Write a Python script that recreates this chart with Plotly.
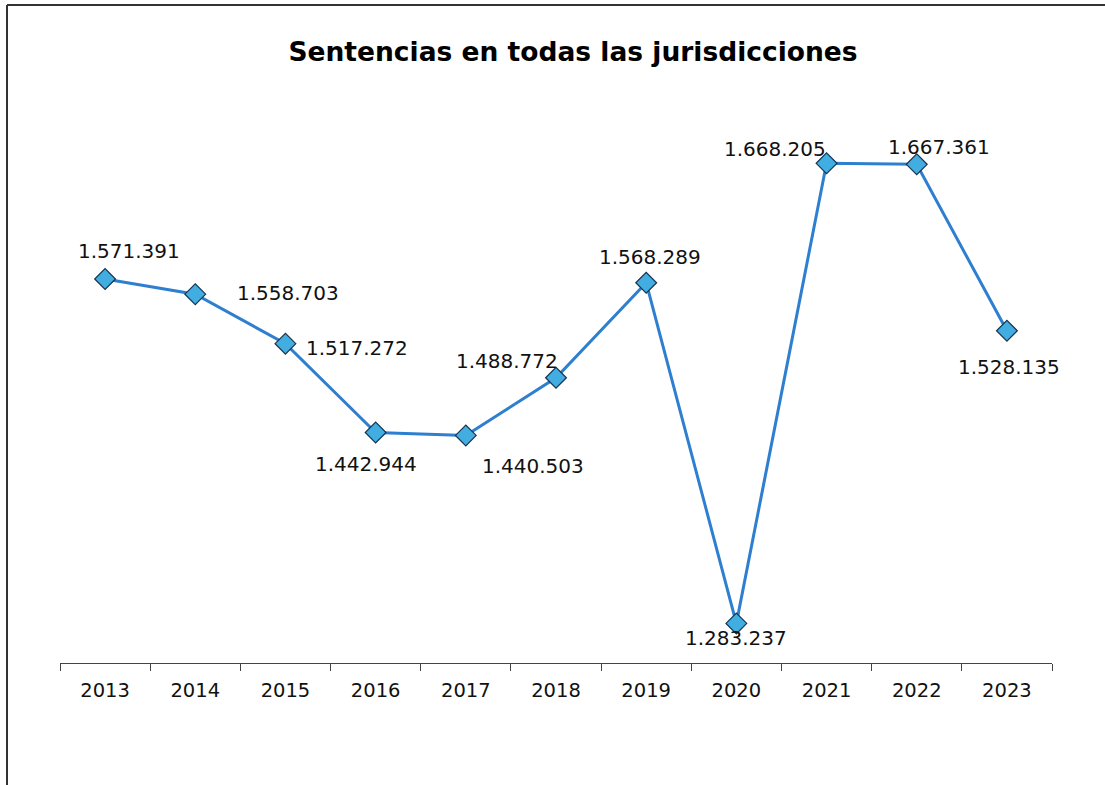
import plotly.graph_objects as go

# datos
anios = ["2013", "2014", "2015", "2016", "2017", "2018", "2019", "2020", "2021", "2022", "2023"]
sentencias = [1571391, 1558703, 1517272, 1442944, 1440503, 1488772, 1568289, 1283237, 1668205, 1667361, 1528135]
etiquetas = ["1.571.391", "1.558.703", "1.517.272", "1.442.944", "1.440.503", "1.488.772",
             "1.568.289", "1.283.237", "1.668.205", "1.667.361", "1.528.135"]

# desplazamiento (px) de cada etiqueta respecto a su punto
desp = [(24, -28), (93, -1), (72, 4), (-10, 31), (67, 31), (-49, -17),
        (4, -26), (0, 15), (-52, -14), (22, -17), (2, 36)]

W, H = 1105, 785
ml, mr, mt, mb = 60, 53, 124, 122
pw, ph = W - ml - mr, H - mt - mb

fig = go.Figure()
fig.add_trace(go.Scatter(
    x=anios, y=sentencias,
    mode="lines+markers",
    line=dict(color="#2e7fd0", width=3),
    marker=dict(symbol="diamond", size=16, color="#41ade0",
                line=dict(color="#17334f", width=1.2)),
    cliponaxis=False,
    hoverinfo="skip",
))

# en eje de categorias, la anotacion se coloca por indice
for i, (v, t, (dx, dy)) in enumerate(zip(sentencias, etiquetas, desp)):
    fig.add_annotation(x=i, y=v, xref="x", yref="y", text=t, showarrow=False,
                       xshift=dx, yshift=-dy,
                       font=dict(family="DejaVu Sans", size=20, color="#111"))

# marco (solo arriba e izquierda, como en la imagen)
def px_x(x):
    return (x - ml) / pw

def px_y(y):
    return (H - mb - y) / ph

fig.add_shape(type="line", xref="paper", yref="paper",
              x0=px_x(7), x1=px_x(1105), y0=px_y(5), y1=px_y(5),
              line=dict(color="#333", width=2))
fig.add_shape(type="line", xref="paper", yref="paper",
              x0=px_x(7), x1=px_x(7), y0=px_y(5), y1=px_y(785),
              line=dict(color="#333", width=2))

fig.update_layout(
    width=W, height=H,
    margin=dict(l=ml, r=mr, t=mt, b=mb),
    paper_bgcolor="white", plot_bgcolor="white",
    showlegend=False,
    font=dict(family="DejaVu Sans", color="#111"),
    title=dict(text="<b>Sentencias en todas las jurisdicciones</b>",
               x=573 / W, xref="container", xanchor="center",
               y=1 - 52 / H, yref="container", yanchor="middle",
               font=dict(size=26.5, color="#000")),
)
fig.update_xaxes(type="category", range=[-0.5, 10.5],
                 showline=True, linecolor="#444", linewidth=1.2,
                 ticks="outside", tickson="boundaries", ticklen=7, tickcolor="#444",
                 ticklabelstandoff=9,
                 showgrid=False, tickfont=dict(size=19.5, color="#111"))
fig.update_yaxes(visible=False, range=[1250100, 1701100])

fig.write_html("out.html", config={"displayModeBar": False},
               post_script="document.body.style.margin='0px';")
